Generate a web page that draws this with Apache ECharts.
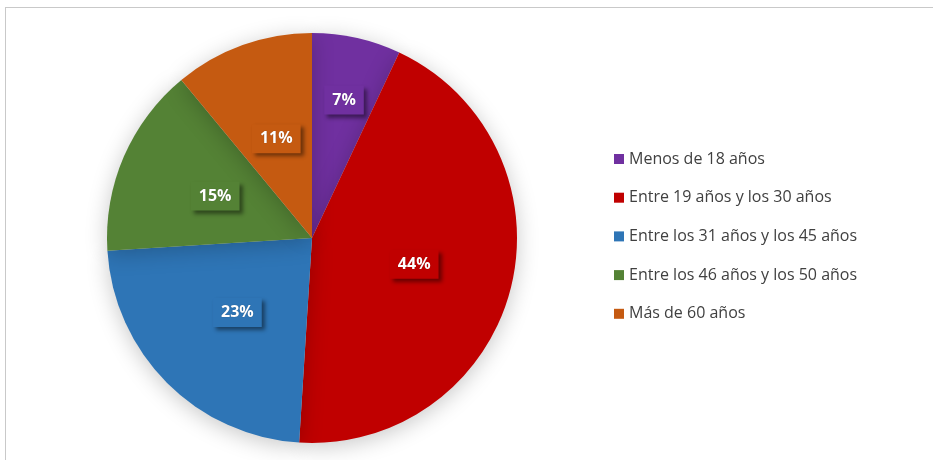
<!DOCTYPE html>
<html>
<head>
<meta charset="utf-8">
<script src="https://cdn.jsdelivr.net/npm/echarts@6/dist/echarts.min.js"></script>
<style>
  html, body { margin: 0; padding: 0; background: #fff; }
  #frame { position: absolute; left: 5px; top: 7px; width: 940px; height: 470px;
           border: 1px solid #c9c9c9; box-sizing: border-box; }
  #chart { position: absolute; left: 0; top: 0; width: 933px; height: 460px; }
</style>
</head>
<body>
<div id="frame"></div>
<div id="chart"></div>
<script>
// Age groups and their share of respondents (%)
const categories = [
  'Menos de 18 años',
  'Entre 19 años y los 30 años',
  'Entre los 31 años y los 45 años',
  'Entre los 46 años y los 50 años',
  'Más de 60 años'
];
const shares = [7, 44, 23, 15, 11];
const colors = ['#7030A0', '#C00000', '#2E75B6', '#548235', '#C55A11'];

const chart = echarts.init(document.getElementById('chart'), null, { renderer: 'canvas' });

const data = categories.map((name, i) => ({
  name,
  value: shares[i],
  itemStyle: { color: colors[i] },
  label: { backgroundColor: colors[i] }
}));

chart.setOption({
  animation: false,
  legend: {
    orient: 'vertical',
    left: 609,
    top: 143,
    itemWidth: 10,
    itemHeight: 10,
    itemGap: 16.7,
    icon: 'rect',
    textStyle: { fontFamily: 'Open Sans, sans-serif', fontSize: 16, lineHeight: 22, color: '#404040' },
    data: categories
  },
  series: [{
    type: 'pie',
    center: [312, 238],
    radius: [0, 205],
    startAngle: 90,
    clockwise: true,
    data,
    itemStyle: {
      borderWidth: 0,
      shadowBlur: 22,
      shadowColor: 'rgba(0,0,0,0.22)',
      shadowOffsetY: 4
    },
    emphasis: { disabled: true },
    labelLine: { show: false },
    label: {
      show: true,
      position: 'inside',
      formatter: '{c}%',
      color: '#fff',
      fontFamily: 'Open Sans, sans-serif',
      fontWeight: 'bold',
      fontSize: 16,
      padding: [7, 8, 6, 8],
      shadowColor: 'rgba(0,0,0,0.45)',
      shadowBlur: 4,
      shadowOffsetX: 3,
      shadowOffsetY: 3,
      textShadowColor: 'rgba(0,0,0,0.35)',
      textShadowBlur: 1
    },
    // the smallest slice's label sits further out along its radius
    labelLayout: function (params) {
      if (params.dataIndex === 0) {
        return { dx: 9, dy: -35 };
      }
      return {};
    }
  }]
});
</script>
</body>
</html>
